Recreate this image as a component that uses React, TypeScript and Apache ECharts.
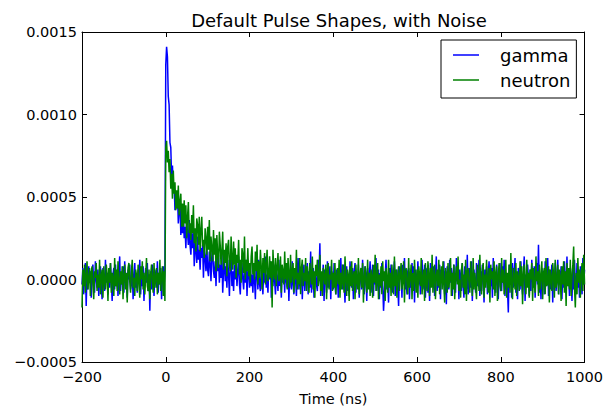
import React, { useEffect, useRef } from "react";
import * as echarts from "echarts";

// Samples every 2 ns starting at -200 ns; values in units of 1e-5
const T0 = -200;
const DT = 2;
const UNIT = 1e-5;

const gamma = [
  -3, 7, -9, 2, 10, -16, 4, -6, 8, -1,
  5, -11, 3, 9, -4, -8, 11, 0, -5, 6,
  -10, 2, 8, -3, -12, 7, 1, -7, 12, -2,
  4, -9, 6, -5, 10, -1, -13, 3, 7, -6,
  9, -4, 2, -10, 5, 14, -7, 1, -3, 8,
  -8, 11, -2, 4, -11, 6, 0, 9, -6, -3,
  7, -12, 3, 10, -5, 2, -8, 6, -1, 12,
  -9, 4, -4, 8, -13, 1, 7, -2, 10, -7,
  3, -19, 5, -6, 9, -1, -10, 6, 2, -5,
  11, -8, 4, -3, 7, -12, 1, 8, -4, 5,
  130, 141, 135, 111, 106, 83, 80, 62, 69, 54, 58, 42, 53, 43, 52, 34, 42, 47, 27, 39, 28,
  40, 25, 32, 19, 35, 28, 21, 36, 21, 15, 28, 19, 29, 8, 23, 18, 10, 26, 12, 18,
  6, 19, 13, 21, 1, 18, 14, 5, 21, 6, 2, 17, 9, -1, 14, 20, 5, 1, 11, -4,
  13, 5, 15, -2, 9, 1, 16, -8, 6, 12, -1, 8, -5, 12, 3, -10, 9, 13, -4, 5,
  -7, 9, 0, 12, -4, 4, 14, -3, -9, 6, 10, 0, -6, 7, -2, 12, -10, 4, 8, -5,
  10, -4, 3, -8, 7, 0, -12, 9, 4, -6,
  12, -3, -7, 6, 2, -9, 8, -2, 14, -5, 3, -8, 7, 0, 11, -11, 5, -4, 9, -1,
  -9, 5, 1, -7, 12, -4, 3, -11, 8, -2,
  6, -8, 10, -1, -5, 9, -13, 4, 2, -6,
  11, -3, -9, 7, 0, -10, 5, 13, -6, 3,
  -4, 8, -12, 2, 9, -7, 1, -2, 10, -9,
  5, -5, 17, -8, 3, 7, -11, 0, 6, -3,
  -7, 12, 4, 22, -10, 1, -4, 9, -13, 6,
  2, -8, 11, -5, -1, 8, -12, 5, 3, -6,
  10, -3, -9, 6, 1, -11, 7, -4, 13, -2,
  -6, 9, -1, -14, 4, 8, -7, 2, -10, 11,
  0, -5, 7, -12, 5, 10, -8, 3, -3, 9,
  -11, 1, 6, -6, 12, -2, -9, 8, 4, -13,
  7, -4, 2, 11, -8, -1, 9, -10, 5, -3,
  13, -7, 0, 6, -12, 4, -5, 10, -2, -19,
  -9, 3, 12, -6, 1, -14, 7, -3, 9, -1,
  -8, 5, 11, -10, 2, 6, -4, -16, 8, 0,
  4, -11, 9, -2, 13, -6, 1, -9, 5, 7,
  -12, 3, -5, 10, -1, 8, -14, 6, 2, -7,
  11, -3, 5, -9, 0, 12, -6, -2, 9, -11,
  4, 7, -8, 1, -13, 10, -4, 6, -1, 8,
  -10, 2, 14, -7, 3, -5, 9, -12, 6, 0,
  -3, 11, -9, 5, -15, 8, 1, -6, 12, -2,
  7, -10, 3, 9, -4, -8, 13, -1, 5, -12,
  6, 2, -7, 10, -3, -11, 8, 4, -6, 15,
  -9, 1, 7, -5, 11, -13, 3, 6, -2, -8,
  10, -4, 0, 12, -10, 5, -7, 9, 2, -14,
  6, -1, 8, -9, 3, 11, -6, -3, 7, -11,
  13, -5, 2, -8, 9, 0, -12, 5, 10, -4,
  -7, 8, -2, 12, -10, 4, 1, -6, -20, 9,
  -3, 6, -11, 10, -5, 2, 13, -8, 0, -12,
  7, 4, -6, 11, -2, -9, 5, 14, -13, 3,
  -4, 9, 1, -10, 6, -7, 12, -1, -5, 8,
  -11, 3, 10, -3, 21, -8, 2, -12, 7, 0,
  5, -9, 11, -4, -1, 13, -10, 6, -6, 2,
  9, -14, 4, -2, 10, -7, 1, 12, -9, 5,
  -3, 8, -12, 6, -5, 11, 0, -8, 14, -4,
  3, -10, 7, 1, -13, 9, -6, 12, -2, -7,
  10, -5, 4, -11, 8, 2, -9, 13, -3, 6,
];

const neutron = [
  -17, 6, -4, 9, -8, 2, 11, -6, 0, 7,
  -10, 4, 8, -3, -12, 5, 1, 10, -7, 3,
  -5, 12, -9, 2, 6, -11, 8, -1, -6, 9,
  3, -13, 7, -2, 10, -8, 4, 1, -10, 13,
  -4, 6, -7, 11, 0, -9, 5, -3, 8, -12,
  2, 9, -6, 4, -14, 7, 10, -1, -8, 5,
  12, -5, 1, -10, 6, 3, -7, 9, -2, -11,
  8, 0, 11, -6, 4, -9, 2, 13, -4, -7,
  6, -12, 3, 9, -1, -8, 10, -5, 1, 7,
  -9, 4, -3, 12, -7, 2, 8, -10, 5, -13,
  80, 84, 71, 78, 65, 73, 55, 64, 49, 66, 52, 59, 42, 54, 43, 57, 39, 47, 52, 32, 46,
  32, 48, 34, 45, 25, 38, 47, 28, 34, 24, 39, 28, 45, 22, 31, 17, 37, 33, 21, 38,
  17, 30, 38, 20, 24, 13, 31, 25, 15, 32, 18, 36, 11, 26, 19, 11, 30, 15, 25, 5,
  27, 15, 7, 29, 21, 9, 17, 29, 6, 18, 10, 22, 2, 20, 24, 9, 5, 26, 13, 6,
  23, 9, 19, 1, 15, 10, 24, 3, 12, -2, 19, 15, 4, 26, 0, 12, 5, 19, 2, 10,
  -2, 14, 20, 3, 10, 0, 17, 5, 21, -3,
  11, 1, 18, 8, -6, 13, 4, 16, -3, 9,
  18, -1, 2, 14, 1, 11, -17, 18, 5, 0,
  13, -4, 8, 16, -1, 2, 14, -8, 9, 5,
  -3, 17, 0, 10, -6, 13, 3, -5, 15, -2,
  5, 10, -8, 7, 0, 18, -6, 4, -3, 13,
  -9, 7, 12, -4, 4, -1, 13, -7, 8, 1,
  -8, 10, 4, -3, 14, -6, 5, -11, 9, 2,
  12, -4, 0, 15, -7, 5, -10, 7, 2, -3,
  9, -12, 6, 10, -6, 3, 0, 12, -7, 4,
  -5, 10, -9, 1, 7, -3, 12, -11, 4, -6,
  9, -2, -8, 14, 0, -10, 6, 3, -13, 8,
  -4, 11, -7, 2, 5, -12, 9, -1, -6, 13,
  -9, 3, 7, -5, 10, -14, 1, 8, -3, -8,
  12, -6, 4, -10, 6, 2, -11, 9, -2, 15,
  -7, 0, 10, -12, 3, -4, 8, -9, 11, -1,
  5, -13, 7, 1, -8, 12, -5, 4, -10, 9,
  -2, -9, 14, -4, 6, -11, 2, 8, -7, 3,
  10, -6, -1, 11, -14, 5, 7, -3, -9, 13,
  -5, 2, 9, -12, 4, -7, 12, 0, -8, 6,
  -11, 8, 3, -4, 13, -9, 1, 6, -13, 10,
  -2, -7, 11, 4, -10, 7, -5, 15, -8, 1,
  9, -12, 2, 6, -4, 12, -9, -1, 8, -6,
  11, -3, -14, 7, 3, -8, 10, -5, 1, 13,
  -10, 4, -6, 9, -12, 2, 8, -3, 14, -7,
  0, -11, 6, 10, -5, 3, -9, 12, -13, 5,
  7, -2, -8, 11, 1, -10, 13, -6, 4, -4,
  -12, 9, 2, -7, 15, -3, -9, 6, 10, -11,
  3, -5, 12, -1, -8, 7, -14, 9, 0, 5,
  -6, 11, -10, 4, 8, -13, 2, 10, -4, -7,
  13, -2, 6, -9, 1, 12, -11, 4, -5, 9,
  -8, 16, -3, -12, 7, 2, -6, 10, -10, 5,
  1, -7, 11, -4, 8, -15, 3, 9, -2, -9,
  12, -5, 4, -11, 6, 0, 10, -13, 7, -3,
  -8, 14, -1, 5, -10, 9, -6, 2, 11, -12,
  4, 7, -9, 13, -4, -2, 8, -14, 6, 1,
  -7, 10, 3, -11, 12, -5, -1, 9, -9, 6,
  2, -13, 8, -3, 11, -8, 5, -16, 10, -4,
  7, -6, 12, -10, 1, 9, 20, -5, -17, 4,
  -9, 13, -2, 6, -11, 3, 10, -7, 15, -3,
];

const seriesNames = ["gamma", "neutron"];
const seriesColors = ["#0000ff", "#008000"];
const X_MIN = -200, X_MAX = 1000, X_STEP = 200;
const Y_MIN = -0.0005, Y_MAX = 0.0015, Y_STEP = 0.0005;

const FONT = "DejaVu Sans";
const minus = (s: string) => s.replace("-", "\u2212");

const toPairs = (arr: number[]) => arr.map((v, i) => [T0 + i * DT, v * UNIT]);

export default function App() {
  const ref = useRef<HTMLDivElement>(null);
  useEffect(() => {
    if (!ref.current) return;
    document.body.style.margin = "0";
    const chart = echarts.init(ref.current, null, { renderer: "svg" });
    const axisLine = { show: true, onZero: false, lineStyle: { color: "#000", width: 1 } };
    const tick = { show: true, inside: true, length: 5, lineStyle: { color: "#000", width: 1 } };
    const xBase = { type: "value", min: X_MIN, max: X_MAX, interval: X_STEP, splitLine: { show: false }, axisLine, axisTick: tick };
    const yBase = { type: "value", min: Y_MIN, max: Y_MAX, interval: Y_STEP, splitLine: { show: false }, axisLine, axisTick: tick };
    chart.setOption({
      animation: false,
      backgroundColor: "#fff",
      title: {
        text: "Default Pulse Shapes, with Noise",
        left: 334,
        textAlign: "center",
        top: 6,
        textStyle: { fontFamily: FONT, fontSize: 18, fontWeight: "normal", color: "#000" },
      },
      grid: { left: 82, right: 20, top: 32, bottom: 43, containLabel: false },
      legend: {
        data: seriesNames,
        orient: "vertical",
        left: 441,
        top: 40,
        padding: [6, 6, 9, 12],
        itemGap: 7,
        itemWidth: 26,
        itemHeight: 1.5,
        icon: "rect",
        borderColor: "#000",
        borderWidth: 1,
        backgroundColor: "#fff",
        textStyle: { fontFamily: FONT, fontSize: 18, color: "#000", padding: [0, 0, 0, 16] },
      },
      xAxis: [
        {
          ...xBase,
          position: "bottom",
          name: "Time (ns)",
          nameLocation: "middle",
          nameGap: 29,
          nameTextStyle: { fontFamily: FONT, fontSize: 14.5, color: "#000" },
          axisLabel: { fontFamily: FONT, fontSize: 14.5, color: "#000", margin: 7, formatter: (v: number) => minus(String(v)) },
        },
        { ...xBase, position: "top", axisLabel: { show: false } },
      ],
      yAxis: [
        {
          ...yBase,
          position: "left",
          axisLabel: { fontFamily: FONT, fontSize: 14.5, color: "#000", margin: 5, formatter: (v: number) => minus(v.toFixed(4)) },
        },
        { ...yBase, position: "right", axisLabel: { show: false } },
      ],
      series: [gamma, neutron].map((arr, i) => ({
        name: seriesNames[i],
        type: "line",
        xAxisIndex: 0,
        yAxisIndex: 0,
        symbol: "none",
        color: seriesColors[i],
        lineStyle: { color: seriesColors[i], width: 1.5 },
        data: toPairs(arr),
      })),
    });
    return () => chart.dispose();
  }, []);
  return <div ref={ref} style={{ position: "fixed", left: 0, top: 0, width: 606, height: 411 }} />;
}
